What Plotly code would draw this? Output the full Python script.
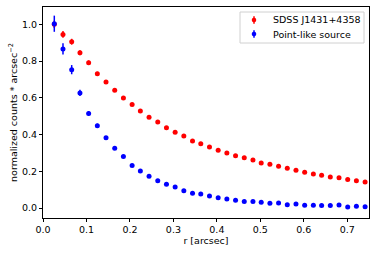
import plotly.graph_objects as go

r_arcsec = [0.026, 0.046, 0.066, 0.085, 0.105, 0.125, 0.145, 0.165, 0.185, 0.205,
            0.224, 0.244, 0.264, 0.284, 0.304, 0.324, 0.344, 0.363, 0.383, 0.403,
            0.423, 0.443, 0.463, 0.483, 0.502, 0.522, 0.542, 0.562, 0.582, 0.602,
            0.622, 0.641, 0.661, 0.681, 0.701, 0.721, 0.741]

sdss_vals = [1.000, 0.945, 0.905, 0.845, 0.791, 0.731, 0.686, 0.641, 0.599, 0.564,
             0.528, 0.494, 0.468, 0.437, 0.412, 0.392, 0.365, 0.350, 0.332, 0.314,
             0.299, 0.285, 0.274, 0.261, 0.245, 0.238, 0.227, 0.216, 0.205, 0.194,
             0.185, 0.178, 0.169, 0.165, 0.155, 0.149, 0.141]
sdss_err = [0.020, 0.019, 0.016, 0.014, 0.012, 0.010, 0.009, 0.008, 0.008, 0.007,
            0.007, 0.006, 0.006, 0.006, 0.005, 0.005, 0.005, 0.005, 0.004, 0.004,
            0.004, 0.004, 0.004, 0.004, 0.004, 0.003, 0.003, 0.003, 0.003, 0.003,
            0.003, 0.003, 0.003, 0.003, 0.003, 0.003, 0.003]

psf_vals = [1.003, 0.866, 0.753, 0.626, 0.515, 0.448, 0.382, 0.325, 0.281, 0.232,
            0.201, 0.173, 0.148, 0.129, 0.114, 0.094, 0.080, 0.076, 0.065, 0.056,
            0.049, 0.042, 0.036, 0.035, 0.031, 0.026, 0.027, 0.018, 0.022, 0.015,
            0.015, 0.013, 0.013, 0.016, 0.005, 0.009, 0.007]
psf_err = [0.044, 0.031, 0.025, 0.017, 0.013, 0.011, 0.009, 0.008, 0.007, 0.006,
           0.006, 0.005, 0.005, 0.004, 0.004, 0.004, 0.003, 0.003, 0.003, 0.003,
           0.003, 0.003, 0.003, 0.003, 0.003, 0.003, 0.003, 0.003, 0.003, 0.003,
           0.003, 0.003, 0.003, 0.003, 0.003, 0.003, 0.003]

series_names = ["SDSS J1431+4358", "Point-like source"]
series_colors = ["#ff0000", "#0000ff"]

x_ticks = [0.0, 0.1, 0.2, 0.3, 0.4, 0.5, 0.6, 0.7]
y_ticks = [0.0, 0.2, 0.4, 0.6, 0.8, 1.0]

FONT = "DejaVu Sans"
FS = 9.5

W, H = 377, 255
ML, MR, MT, MB = 43, 8, 7, 37
PW, PH = W - ML - MR, H - MT - MB

fig = go.Figure()
for name, color, vals, errs in [(series_names[0], series_colors[0], sdss_vals, sdss_err),
                                 (series_names[1], series_colors[1], psf_vals, psf_err)]:
    fig.add_trace(go.Scatter(
        x=r_arcsec, y=vals, mode="markers", name=name, showlegend=False,
        marker=dict(color=color, size=5),
        error_y=dict(type="data", array=errs, color=color, thickness=1.5, width=0),
    ))

axis_common = dict(
    showline=True, linecolor="black", linewidth=1, mirror=True,
    ticks="outside", ticklen=3, tickwidth=1, tickcolor="black",
    showgrid=False, zeroline=False, automargin=False,
    tickfont=dict(family=FONT, size=FS, color="black"),
)

# manual legend (matplotlib style) in paper coordinates
def px_x(px):
    return (px - ML) / PW

def px_y(py):
    return (H - MB - py) / PH

shapes = [dict(type="rect", xref="paper", yref="paper",
               x0=px_x(240), x1=px_x(364), y0=px_y(43), y1=px_y(12),
               line=dict(color="#d0d0d0", width=1), fillcolor="white", layer="above")]
annotations = []
for i, (name, color) in enumerate(zip(series_names, series_colors)):
    cy = 20 + 14 * i
    shapes.append(dict(type="line", xref="paper", yref="paper",
                       x0=px_x(254), x1=px_x(254), y0=px_y(cy + 3.8), y1=px_y(cy - 3.8),
                       line=dict(color=color, width=1.5), layer="above"))
    shapes.append(dict(type="circle", xref="paper", yref="paper",
                       x0=px_x(251.7), x1=px_x(256.3), y0=px_y(cy + 2.3), y1=px_y(cy - 2.3),
                       line=dict(color=color, width=0), fillcolor=color, layer="above"))
    annotations.append(dict(xref="paper", yref="paper", x=px_x(271), y=px_y(cy),
                            xanchor="left", yanchor="middle", showarrow=False,
                            text=name, font=dict(family=FONT, size=FS, color="black")))

fig.update_layout(
    width=W, height=H,
    margin=dict(l=ML, r=MR, t=MT, b=MB),
    paper_bgcolor="white", plot_bgcolor="white",
    font=dict(family=FONT, size=FS, color="black"),
    xaxis=dict(range=[0, 0.75], tickvals=x_ticks, ticktext=[f"{v:.1f}" for v in x_ticks],
               title=dict(text="r [arcsec]", font=dict(family=FONT, size=FS), standoff=2),
               **axis_common),
    yaxis=dict(range=[-0.0544, 1.094], tickvals=y_ticks, ticktext=[f"{v:.1f}" for v in y_ticks],
               title=dict(text="normalized counts * arcsec<sup>−2</sup>",
                          font=dict(family=FONT, size=FS), standoff=2),
               **axis_common),
    shapes=shapes,
    annotations=annotations,
    showlegend=False,
    hovermode=False,
)

fig.write_html("out.html", config={"displayModeBar": False, "staticPlot": True},
               post_script="document.body.style.margin='0';")
